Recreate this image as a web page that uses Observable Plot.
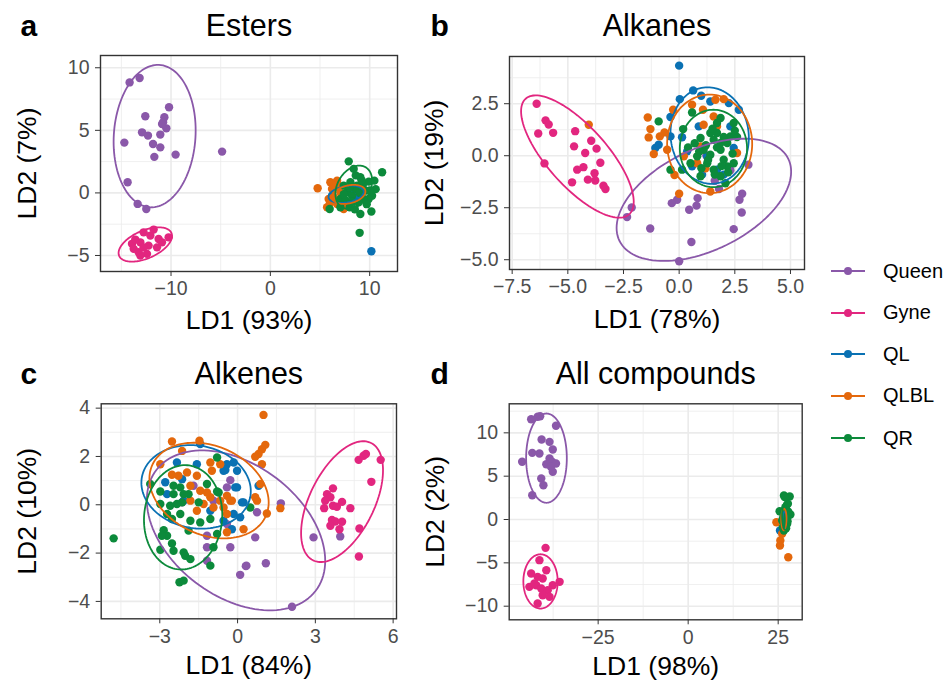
<!DOCTYPE html>
<html><head><meta charset="utf-8">
<script src="https://cdn.jsdelivr.net/npm/d3@7"></script>
<script src="https://cdn.jsdelivr.net/npm/@observablehq/plot@0.6"></script>
<style>
body{margin:0;background:#fff;font-family:"Liberation Sans",Arial,sans-serif}
#wrap{position:relative;width:949px;height:683px;overflow:hidden}
.panel{position:absolute}
.leg{position:absolute;left:831px;height:24px;display:flex;align-items:center;font-size:20px;color:#000}
.leg span{margin-left:18px}
</style>
</head><body><div id="wrap"></div>
<script>
// ---- groups & colours ----
const groups = ["Queen", "Gyne", "QL", "QLBL", "QR"];
const colors = ["#8A58A9", "#E2267F", "#0A71B3", "#E4680C", "#0C8A3B"];

// ---- panel a: Esters ----
const estersQueen = [[-14.17,8.83],[-13.16,9.18],[-10.2,6.84],[-12.59,6.12],[-10.67,6.04],[-10.8,5.64],[-10.47,5.16],[-10.9,5.5],[-12.92,4.84],[-12.32,4.58],[-11.08,4.66],[-14.7,4.02],[-11.81,3.91],[-11.08,3.64],[-9.54,3.06],[-11.68,2.88],[-14.37,0.85],[-13.36,-0.88],[-12.49,-1.28],[-4.86,3.3]];
const estersGyne = [[-11.75,-2.93],[-12.76,-3.15],[-10.24,-3.55],[-11.25,-3.68],[-13.93,-4.07],[-13.09,-3.95],[-12.26,-4.21],[-13.76,-4.47],[-11.41,-4.35],[-13.26,-4.74],[-12.42,-4.87],[-12.76,-4.35],[-10.91,-3.95],[-13.6,-3.73],[-12.08,-3.41],[-13.09,-5.0]];
const estersQL = [[10.17,-4.66],[6.21,-0.22],[8.56,-0.08],[8.06,0.18],[8.89,-0.48],[7.2,-0.3]];
const estersQLBL = [[4.76,0.37],[6.04,0.85],[6.72,0.98],[6.21,0.32],[6.37,-0.35],[5.71,-1.15],[7.38,-1.28],[6.72,-0.88],[7.72,-0.75],[7.05,0.05],[5.87,-0.48],[6.88,0.58],[6.5,0.6],[7.3,-0.9],[6.0,-0.8]];
const estersQR = [[7.89,2.52],[8.39,1.92],[11.25,1.65],[10.47,0.98],[9.9,0.9],[9.06,1.25],[8.73,0.58],[10.24,-0.22],[9.9,-0.48],[5.97,-1.28],[7.05,-1.15],[7.99,-1.15],[9.06,-1.68],[10.17,-1.49],[8.99,-3.19],[7.72,0.05],[8.23,-0.22],[8.56,0.32],[9.4,-0.48],[7.38,0.58],[9.57,0.18],[8.89,-0.75],[8.06,0.85],[7.05,-0.48],[8.6,1.4],[9.3,0.6],[7.6,-0.6],[8.3,-0.7],[9.7,-0.9],[10.6,0.3],[8.0,0.4],[9.0,0.0],[7.4,-0.1],[8.5,-1.3],[9.2,1.0],[10.0,0.2]];
// ellipse parameters per group: [cx, cy, halfWidth, halfHeight, r]
const estersEllipses = [[-11.65,4.54,4.13,5.69,0.08],[-12.59,-4.12,2.69,1.37,0.5],[7.63,-0.11,1.77,0.69,0.3],[7.89,-0.12,1.68,0.76,0.3],[8.4,0.45,1.85,1.73,0.3]];

// ---- panel b: Alkanes ----
const alkanesQueen = [[1.22,0.01],[3.11,-0.43],[2.83,-1.83],[2.71,-2.12],[2.81,-2.73],[0.83,-2.04],[0.78,-2.4],[0.45,-2.6],[-0.09,-2.12],[-0.33,-2.28],[-1.3,-3.5],[2.45,-3.53],[0.55,-4.15],[0.0,-5.07],[1.79,-1.6],[-2.13,-2.49],[-2.34,-2.95],[2.3,-0.7],[1.6,-1.2]];
const alkanesGyne = [[-6.4,2.5],[-6.0,1.7],[-5.86,1.5],[-6.33,1.07],[-5.66,1.1],[-4.67,1.18],[-3.95,0.72],[-3.71,0.34],[-4.72,0.45],[-4.22,0.13],[-6.05,-0.37],[-3.54,-0.34],[-4.3,-0.55],[-4.58,-0.67],[-3.8,-0.84],[-4.1,-1.15],[-3.77,-1.19],[-4.81,-1.28],[-3.4,-1.44],[-3.31,-1.6]];
const alkanesQL = [[0.0,4.33],[0.63,3.14],[0.03,2.72],[0.99,2.88],[1.4,2.61],[2.23,2.53],[-0.39,1.86],[-0.92,0.53],[-1.07,0.37],[0.88,1.41],[0.36,0.21],[1.26,-0.03],[2.45,0.37],[0.58,-0.51],[1.7,-0.67],[2.3,1.41],[1.03,-0.91],[0.13,0.89],[-0.39,0.93],[2.0,-0.91],[2.68,2.21]];
const alkanesQLBL = [[-1.41,1.84],[-1.29,1.28],[-1.37,0.88],[-1.14,0.08],[-0.87,0.93],[-0.66,1.12],[-0.27,2.21],[-0.54,0.29],[-0.21,-0.93],[0.0,-1.83],[0.58,2.45],[1.07,2.21],[1.63,2.69],[1.55,1.89],[1.7,1.41],[1.1,1.49],[2.6,0.13],[1.4,-1.72],[2.0,2.72],[0.96,0.45],[1.18,-0.6],[0.21,-0.03],[0.81,-0.36],[-4.06,1.49]];
const alkanesQR = [[-0.92,1.65],[0.58,2.08],[0.18,1.28],[-0.39,-0.67],[0.13,-0.67],[0.96,0.85],[1.86,1.81],[2.45,1.57],[0.81,-0.03],[1.26,-0.36],[1.55,0.77],[1.86,0.29],[2.16,0.61],[2.0,-0.19],[1.4,1.09],[1.7,1.09],[2.3,0.93],[1.1,0.29],[1.55,-0.67],[2.16,-0.51],[1.86,-0.99],[0.96,-0.99],[1.4,0.05],[2.08,-1.32],[0.51,-0.36],[2.45,-0.36],[1.7,1.57],[1.86,0.61],[1.2,0.5],[1.7,0.4],[2.0,0.9],[2.4,0.1],[1.3,-0.2],[0.9,0.2],[1.9,-0.5],[2.6,0.9],[1.5,1.3],[2.2,-0.8],[0.7,0.6],[1.0,-0.6],[2.5,1.2],[1.6,-0.9],[0.4,0.4]];
const alkanesEllipses = [[1.11,-2.12,3.92,2.94,0.46],[-4.57,-0.04,2.53,2.94,-0.74],[1.37,0.97,1.76,2.32,-0.05],[1.37,0.57,1.91,2.37,0],[1.54,0.35,1.51,1.86,0]];

// ---- panel c: Alkenes ----
const alkenesQueen = [[-1.7,0.79],[-2.14,0.1],[-0.93,0.17],[-0.41,0.72],[-0.28,1.02],[-1.18,-1.28],[-1.18,-1.76],[-1.18,-2.32],[-0.28,-1.76],[0.1,-2.9],[0.32,-2.54],[-0.41,-0.8],[1.67,0.06],[0.75,-0.31],[0.68,-1.35],[0.34,-2.52],[1.09,-2.42],[2.1,-4.22],[2.93,-1.35],[3.96,-1.31]];
const alkenesGyne = [[3.68,0.68],[3.45,0.44],[3.58,0.31],[3.38,0.17],[3.34,-0.14],[3.68,-0.04],[3.83,-0.08],[4.03,0.12],[4.35,-0.14],[3.64,-0.63],[3.77,-0.69],[4.03,-0.7],[3.58,-0.87],[3.93,-1.01],[4.7,-0.98],[4.68,-2.14],[4.67,1.86],[4.86,2.03],[4.95,2.1],[5.52,1.86],[5.16,0.95]];
const alkenesQL = [[-2.34,1.75],[-1.57,1.68],[-1.44,2.51],[-0.41,1.68],[-0.15,1.75],[-0.02,1.41],[-0.02,0.72],[-0.54,1.41],[-2.72,0.44],[-2.79,0.93],[-2.14,1.06],[-0.15,-0.38],[0.23,0.1],[-0.54,-0.66],[-0.22,-1.01],[0.1,-0.52],[-1.05,-0.25],[-2.08,0.17],[-0.47,1.44],[-0.09,0.72],[0.17,0.1],[0.81,0.79]];
const alkenesQLBL = [[-2.53,2.62],[-1.47,2.65],[-2.14,2.23],[-2.98,1.68],[-2.53,1.24],[-2.28,1.2],[-1.95,1.34],[-1.57,1.2],[-1.05,1.75],[-0.99,1.41],[-1.82,0.79],[-1.44,0.58],[-1.05,0.31],[-0.67,0.17],[-0.41,0.37],[-1.82,0.17],[-1.31,0.03],[-0.93,-0.11],[-0.54,-0.11],[-0.22,0.17],[-0.41,-0.38],[-1.57,-0.25],[0.23,-1.01],[-0.41,-1.14],[-1.18,0.51],[1.0,3.72],[1.07,2.48],[0.94,2.3],[0.81,2.1],[0.68,1.99],[0.94,1.68],[0.88,0.86],[0.68,0.31],[0.75,0.17],[1.13,-0.36],[1.65,-0.14],[-0.28,0.17],[-0.67,1.68]];
const alkenesQR = [[-4.78,-1.39],[-3.37,0.86],[-2.98,0.55],[-2.47,0.44],[-2.21,0.72],[-2.47,0.79],[-1.89,0.44],[-1.18,0.86],[-0.79,1.96],[-0.73,0.51],[-2.98,0.03],[-2.6,-0.04],[-2.14,0.1],[-1.5,0.1],[-2.72,-0.38],[-2.21,-0.38],[-1.82,-0.66],[-1.44,-0.73],[-1.05,-0.59],[-2.53,-0.59],[-2.85,-1.05],[-2.72,-1.28],[-2.92,-1.28],[-2.53,-1.6],[-2.98,-1.86],[-2.47,-1.9],[-2.08,-1.97],[-2.02,-2.11],[-1.82,-2.25],[-2.24,-3.21],[-2.08,-3.14],[-1.05,-2.52],[-1.89,-1.07],[-0.79,-1.21],[-0.93,-1.76],[-2.08,0.44],[-2.34,0.03],[0.49,-0.11],[-0.79,0.55]];
const alkenesEllipses = [[-0.06,-1.06,3.44,3.31,-0.38],[4.03,0.13,1.58,2.5,0.52],[-1.6,0.74,2.11,1.73,-0.1],[-1.1,0.59,2.3,1.98,-0.25],[-2.1,-0.52,1.51,2.16,0.05]];

// ---- panel d: All compounds ----
const allQueen = [[-43.6,11.57],[-41.8,11.85],[-41.1,11.92],[-36.7,10.81],[-40.7,9.23],[-38.5,8.96],[-43.3,7.69],[-41.3,7.62],[-37.6,8.08],[-46.1,6.66],[-38.5,7.04],[-37.8,6.66],[-39.4,6.38],[-36.7,6.46],[-37.6,5.5],[-40.8,4.73],[-40.2,3.96],[-43.3,2.8],[-38.1,6.08]];
const allGyne = [[-39.6,-3.27],[-41.3,-4.69],[-39.4,-5.85],[-43.6,-6.23],[-41.8,-6.62],[-40.4,-6.81],[-42.2,-7.58],[-44.1,-7.77],[-37.6,-7.58],[-35.7,-7.19],[-40.8,-7.96],[-39.0,-8.15],[-40.4,-8.73],[-38.5,-8.92],[-41.8,-9.69],[-42.7,-7.38]];
const allQL = [[25.5,-1.27],[26.9,-0.3],[27.5,0.2]];
const allQLBL = [[24.5,-0.31],[26.1,-1.65],[25.6,-2.42],[25.5,-3.0],[27.8,-4.35],[26.6,-0.69]];
const allQR = [[26.6,2.77],[28.2,2.65],[25.4,0.96],[27.0,1.42],[28.4,0.58],[26.1,-0.12],[27.5,-0.5],[26.6,-1.27],[27.5,0.66],[26.4,0.27],[27.7,1.81],[26.8,2.6],[27.3,1.1],[26.9,0.2],[27.8,0.9],[26.3,-0.9],[27.2,-1.0],[26.7,0.5],[27.6,-0.2]];
const allEllipses = [[-39.35,7.08,5.65,5.15,0],[-41,-7.14,4.77,3.13,0],[26.8,-0.1,0.6,1.0,0],[26.6,0,0.75,1.25,0],[27.0,0.4,0.9,1.6,0]];

// ---- build panels ----
function pts(lists) {
  const out = [];
  lists.forEach((l, i) => l.forEach(([x, y]) => out.push({x, y, g: groups[i]})));
  return out;
}
function ell(params) {
  const out = [];
  params.forEach(([cx, cy, w, h, r], i) => {
    const s = Math.sqrt(1 - r * r);
    for (let k = 0; k <= 120; k++) {
      const t = (2 * Math.PI * k) / 120;
      out.push({x: cx + w * Math.cos(t), y: cy + h * (r * Math.cos(t) + s * Math.sin(t)), g: groups[i]});
    }
  });
  return out;
}

const panels = [
  {left:0, top:0, width:410, height:340, ml:100, mr:13, mt:55, mb:69,
   xd:[-17.1,12.8], yd:[-6.28,10.98], xMaj:[-10,0,10], xMin:[-15,-5,5], yMaj:[-5,0,5,10], yMin:[-2.5,2.5,7.5], fmt:"d",
   title:"Esters", letter:"a", xt:"LD1 (93%)", yt:"LD2 (7%)", tdy:-20, ldx:-80, xdy:57, ydx:-65,
   data:[estersQueen, estersGyne, estersQL, estersQLBL, estersQR], ell: estersEllipses},
  {left:410, top:0, width:420, height:340, ml:99, mr:26, mt:56, mb:71,
   xd:[-7.62,5.63], yd:[-5.47,4.77], xMaj:[-7.5,-5,-2.5,0,2.5,5], xMin:[-6.25,-3.75,-1.25,1.25,3.75], yMaj:[-5,-2.5,0,2.5], yMin:[-3.75,-1.25,1.25,3.75], fmt:".1f",
   title:"Alkanes", letter:"b", xt:"LD1 (78%)", yt:"LD2 (19%)", tdy:-21, ldx:-79, xdy:58, ydx:-67,
   data:[alkanesQueen, alkanesGyne, alkanesQL, alkanesQLBL, alkanesQR], ell: alkanesEllipses},
  {left:0, top:340, width:410, height:343, ml:100.7, mr:14, mt:63.3, mb:64.7,
   xd:[-5.26,6.13], yd:[-4.72,4.18], xMaj:[-3,0,3,6], xMin:[-4.5,-1.5,1.5,4.5], yMaj:[-4,-2,0,2,4], yMin:[-3,-1,1,3], fmt:"d",
   title:"Alkenes", letter:"c", xt:"LD1 (84%)", yt:"LD2 (10%)", tdy:-20, ldx:-80.7, xdy:55, ydx:-65.7,
   data:[alkenesQueen, alkenesGyne, alkenesQL, alkenesQLBL, alkenesQR], ell: alkenesEllipses},
  {left:410, top:340, width:420, height:343, ml:98.7, mr:28.3, mt:63.3, mb:63.7,
   xd:[-49.7,31.67], yd:[-11.57,13.35], xMaj:[-25,0,25], xMin:[-37.5,-12.5,12.5], yMaj:[-10,-5,0,5,10], yMin:[-7.5,-2.5,2.5,7.5,12.5], fmt:"d",
   title:"All compounds", letter:"d", xt:"LD1 (98%)", yt:"LD2 (2%)", tdy:-20, ldx:-78.7, xdy:55, ydx:-65.4,
   data:[allQueen, allGyne, allQL, allQLBL, allQR], ell: allEllipses}
];

const wrap = document.getElementById("wrap");
const font = "Liberation Sans, Arial, Helvetica, sans-serif";
for (const p of panels) {
  const f = d3.format(p.fmt);
  const chart = Plot.plot({
    width: p.width, height: p.height,
    marginLeft: p.ml, marginRight: p.mr, marginTop: p.mt, marginBottom: p.mb,
    style: {fontFamily: font, background: "transparent", overflow: "visible"},
    x: {domain: p.xd}, y: {domain: p.yd},
    color: {domain: groups, range: colors},
    marks: [
      Plot.ruleX(p.xMin, {stroke: "#EBEBEB", strokeWidth: 0.8}),
      Plot.ruleY(p.yMin, {stroke: "#EBEBEB", strokeWidth: 0.8}),
      Plot.ruleX(p.xMaj, {stroke: "#EBEBEB", strokeWidth: 1.6}),
      Plot.ruleY(p.yMaj, {stroke: "#EBEBEB", strokeWidth: 1.6}),
      Plot.dot(pts(p.data), {x: "x", y: "y", fill: "g", r: 4.2}),
      Plot.line(ell(p.ell), {x: "x", y: "y", z: "g", stroke: "g", strokeWidth: 1.8}),
      Plot.frame({stroke: "#333333", strokeWidth: 1.4}),
      Plot.axisX({ticks: p.xMaj, tickFormat: f, tickSize: 5, tickPadding: 5, fontSize: 19.5, fill: "#4D4D4D", stroke: "#333333", label: null}),
      Plot.axisY({ticks: p.yMaj, tickFormat: f, tickSize: 5, tickPadding: 6, fontSize: 19.5, fill: "#4D4D4D", stroke: "#333333", label: null}),
      Plot.text([p.title], {frameAnchor: "top", dy: p.tdy, lineAnchor: "bottom", fontSize: 30.5, fill: "#000"}),
      Plot.text([p.letter], {frameAnchor: "top-left", dx: p.ldx, dy: p.tdy, lineAnchor: "bottom", textAnchor: "start", fontSize: 30, fontWeight: "bold", fill: "#000"}),
      Plot.text([p.xt], {frameAnchor: "bottom", dy: p.xdy, lineAnchor: "bottom", fontSize: 26.5, fill: "#000"}),
      Plot.text([p.yt], {frameAnchor: "left", dx: p.ydx, rotate: -90, textAnchor: "middle", lineAnchor: "bottom", fontSize: 26.5, fill: "#000"})
    ]
  });
  chart.classList.add("panel");
  chart.style.left = p.left + "px";
  chart.style.top = p.top + "px";
  wrap.appendChild(chart);
}

// ---- legend ----
const legendY = [271, 312.7, 354.3, 395.7, 438.3];
groups.forEach((g, i) => {
  const row = document.createElement("div");
  row.className = "leg";
  row.style.top = (legendY[i] - 12) + "px";
  row.innerHTML = `<svg width="34" height="12"><line x1="0" y1="6" x2="34" y2="6" stroke="${colors[i]}" stroke-width="2"/><circle cx="17" cy="6" r="4" fill="${colors[i]}"/></svg><span>${g}</span>`;
  wrap.appendChild(row);
});
</script>
</body></html>
